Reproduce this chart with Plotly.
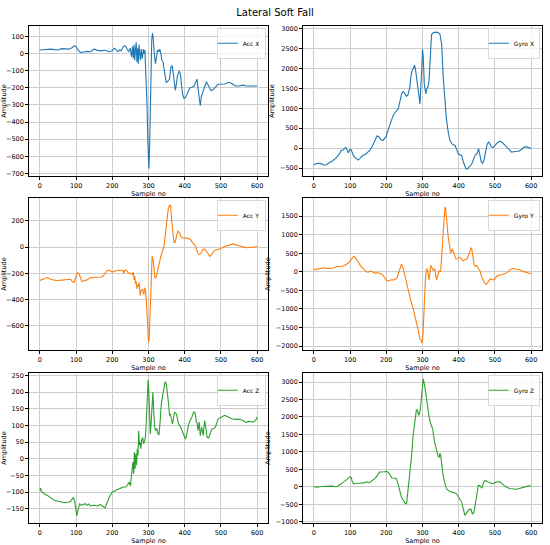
import plotly.graph_objects as go

TITLE = "Lateral Soft Fall"
X_TICKS = [0, 100, 200, 300, 400, 500, 600]

acc_x_s = [0,10,20,30,40,50,60,70,80,90,95,100,105,110,115,120,130,140,150,160,170,180,190,200,205,210,215,220,225,230,235,240,245,250,253,256,258,260,262,264,266,268,270,272,274,276,278,280,283,286,288,290,293,296,298,300,301,303,305,307,309,311,313,316,319,322,325,328,331,334,337,340,344,349,354,358,362,365,368,371,374,377,380,385,388,391,394,398,402,406,410,414,418,422,426,430,434,437,440,443,446,450,455,460,465,469,473,478,485,492,500,510,520,525,530,540,550,560,570,580,590,600]
acc_x_v = [20,22,20,25,22,20,28,25,25,35,45,40,20,10,5,8,12,10,25,18,15,20,10,15,30,25,10,20,15,40,45,30,10,30,-20,40,-30,50,-40,20,65,-50,30,-60,50,0,-40,25,-30,25,0,20,-100,-300,-500,-650,-672,-550,-300,-50,80,118,90,0,-60,-20,20,10,25,0,-40,-50,-100,-170,-160,-150,-80,-70,-110,-150,-215,-180,-130,-102,-120,-180,-235,-262,-257,-240,-215,-200,-200,-195,-190,-170,-150,-210,-270,-305,-250,-225,-190,-165,-185,-200,-218,-212,-195,-180,-180,-178,-170,-170,-175,-190,-190,-185,-190,-190,-190,-190]

gyro_x_s = [0,5,10,20,25,30,35,40,50,60,70,75,80,85,88,92,95,100,103,110,118,122,128,135,142,150,155,160,165,170,175,180,185,191,200,205,210,215,219,225,233,237,240,243,247,251,256,260,265,268,271,275,278,281,285,289,293,296,298,300,302,305,309,312,315,318,321,325,330,340,348,353,357,361,366,371,376,382,387,390,395,399,404,408,413,417,420,424,428,432,436,440,443,446,450,455,458,462,466,470,474,478,482,486,490,494,498,505,512,518,525,530,540,546,551,557,562,568,575,582,588,595,600]
gyro_x_v = [-420,-390,-380,-390,-420,-430,-420,-380,-330,-260,-150,-60,-50,0,20,-50,-120,-30,-40,-200,-280,-300,-250,-180,-160,-80,-50,30,120,200,310,280,210,190,300,450,570,700,820,900,985,1150,1320,1380,1420,1350,1300,1340,1525,1800,1940,2000,2085,1950,1730,1400,1110,1500,2000,2480,2300,1600,1360,1500,1530,1700,2300,2850,2900,2910,2870,2600,1820,1300,730,400,190,100,80,67,-50,-142,-170,-183,-350,-470,-520,-520,-470,-450,-400,-300,-220,-170,-150,-15,-150,-340,-380,-300,-100,80,150,120,30,10,40,120,170,160,100,50,-50,-100,-90,-90,-80,-70,-20,30,30,0,-10]

acc_y_s = [0,5,10,15,20,25,30,40,50,60,70,80,85,90,95,100,104,108,112,116,120,130,140,145,150,160,170,175,180,185,190,195,200,210,220,230,232,235,240,245,250,255,258,260,262,264,266,268,270,272,274,277,280,284,287,290,292,295,298,300,302,304,307,310,313,318,321,325,330,335,340,343,346,350,354,358,361,364,367,370,373,378,381,386,390,395,400,405,410,415,420,425,430,433,437,441,445,450,455,460,465,469,475,480,488,495,500,510,520,530,535,545,555,565,570,580,590,600]
acc_y_v = [-255,-250,-240,-235,-232,-238,-245,-252,-255,-252,-250,-248,-245,-265,-270,-220,-195,-200,-240,-262,-258,-250,-230,-235,-230,-230,-228,-220,-200,-180,-175,-185,-190,-180,-175,-180,-200,-175,-180,-200,-200,-210,-190,-250,-220,-280,-260,-320,-290,-300,-270,-370,-330,-320,-360,-310,-330,-456,-600,-725,-700,-500,-250,-70,-100,-237,-230,-180,-120,-60,-20,10,80,180,280,320,315,200,80,40,32,100,123,110,80,70,72,70,65,60,40,20,7,-20,-50,-57,-45,-20,-15,-30,-50,-70,-55,-30,-20,-15,-10,5,15,25,25,15,10,0,-5,-5,0,5]

gyro_y_s = [0,5,10,15,20,25,30,35,40,50,55,60,65,70,75,80,85,90,95,100,105,110,113,117,120,125,130,135,140,145,150,155,160,165,170,175,180,185,190,195,200,205,210,215,220,225,230,235,242,246,250,254,260,267,274,281,288,293,296,298,300,302,305,308,311,314,318,321,323,327,330,334,336,339,342,346,350,354,358,362,364,367,371,374,378,382,386,392,398,403,408,412,417,422,429,434,436,440,443,446,450,454,458,464,470,476,481,487,492,498,505,510,515,520,530,535,540,545,550,555,560,565,570,575,580,590,600]
gyro_y_v = [60,70,80,90,100,120,110,90,100,100,110,130,150,140,140,160,180,200,240,300,370,420,410,350,280,220,150,100,40,0,-10,20,10,-20,-40,-20,-30,-50,-80,-150,-220,-250,-230,-210,-220,-200,-150,20,215,120,-50,-226,-538,-750,-985,-1250,-1562,-1813,-1820,-1920,-1874,-1560,-700,-200,84,50,-226,50,175,100,30,84,-100,-226,-100,23,-5,500,1200,1750,1700,1300,931,750,503,620,500,351,360,396,350,300,325,340,486,640,620,300,175,150,170,84,40,-137,-280,-340,-260,-190,-205,-215,-120,-90,-80,-70,-40,0,50,80,90,80,70,70,50,20,10,-20,-50]

acc_z_s = [0,2,4,8,12,16,20,30,40,50,60,70,80,85,90,93,96,100,102,105,110,115,120,125,130,135,140,150,160,165,170,175,180,183,188,192,200,210,220,230,238,242,247,250,254,257,259,261,263,265,267,269,271,273,275,277,279,281,284,286,288,291,293,295,297,299,301,303,305,308,310,312,315,317,320,323,326,329,332,335,340,343,346,349,352,355,358,361,363,366,369,372,377,383,389,395,402,406,410,415,420,425,429,432,434,437,440,443,447,451,455,458,462,466,470,475,480,485,492,500,510,520,530,540,550,560,565,570,575,580,590,596,600]
acc_z_v = [-95,-88,-98,-102,-105,-108,-110,-118,-125,-128,-130,-132,-130,-128,-120,-117,-128,-160,-172,-155,-135,-140,-138,-135,-140,-136,-142,-140,-142,-138,-140,-145,-148,-140,-125,-115,-100,-95,-88,-85,-85,-78,-70,-82,-40,-10,-45,20,-30,15,-20,30,10,84,40,49,30,55,64,45,49,60,90,150,200,237,200,130,74,120,180,199,130,94,85,90,75,71,110,160,195,215,231,225,200,170,130,134,120,104,120,140,134,105,94,80,59,75,100,115,125,141,135,110,109,85,110,69,95,70,114,95,64,62,75,89,90,95,119,125,130,125,120,118,118,115,110,108,112,112,110,115,125]

gyro_z_s = [0,10,20,30,40,50,60,65,70,75,80,90,95,100,103,106,110,115,120,130,135,140,145,150,155,160,170,182,190,195,200,205,210,215,219,225,228,232,237,242,248,252,256,260,265,270,274,279,283,285,290,294,298,302,306,311,315,319,323,328,333,339,343,346,348,350,354,357,362,366,372,380,388,394,400,408,413,417,421,426,433,438,442,445,449,454,459,464,469,473,477,482,490,495,500,505,510,515,520,530,540,550,555,560,570,580,590,600]
gyro_z_v = [0,-10,10,20,30,20,0,10,50,80,120,200,250,290,270,150,80,100,100,100,100,120,150,120,130,180,250,422,420,430,440,420,350,260,250,240,230,100,-150,-300,-400,-470,-487,-100,420,900,1470,1950,2190,2215,2046,2215,2700,3094,2900,2522,2200,1948,1800,1660,1300,994,870,850,960,900,500,327,100,-57,-110,-153,-170,-201,-300,-438,-650,-820,-760,-677,-630,-773,-740,-582,-300,40,30,-36,130,183,150,135,100,90,120,140,150,130,80,0,-50,-70,-80,-70,-40,0,20,30]

BLUE = "#1f77b4"
ORANGE = "#ff7f0e"
GREEN = "#2ca02c"

panels = [
    ("Acc X", acc_x_s, acc_x_v, BLUE, [-715, 160], 100, 0, 0),
    ("Gyro X", gyro_x_s, gyro_x_v, BLUE, [-700, 3065], 500, 0, 1),
    ("Acc Y", acc_y_s, acc_y_v, ORANGE, [-785, 375], 200, 1, 0),
    ("Gyro Y", gyro_y_s, gyro_y_v, ORANGE, [-2105, 1990], 500, 1, 1),
    ("Acc Z", acc_z_s, acc_z_v, GREEN, [-193, 257], 50, 2, 0),
    ("Gyro Z", gyro_z_s, gyro_z_v, GREEN, [-1037, 3260], 500, 2, 1),
]

W, H = 550, 545
col_px = [(29, 268), (303, 542)]
row_px = [(26, 176), (198, 350), (373, 523)]

FONT = "DejaVu Sans"
TXT = dict(family=FONT, size=6.5, color="black")
fig = go.Figure()
layout = dict(
    template="none",
    width=W, height=H,
    margin=dict(l=0, r=0, t=0, b=0, autoexpand=False),
    paper_bgcolor="white", plot_bgcolor="white",
    showlegend=True,
    font=TXT,
    title=dict(text=TITLE, x=0.5, xanchor="center", y=1 - 12 / H, yanchor="middle",
               font=dict(family=FONT, size=10, color="black")),
)

for i, (name, xs, ys, color, yr, dtick, r, c) in enumerate(panels):
    k = i + 1
    xa = "x" if k == 1 else f"x{k}"
    ya = "y" if k == 1 else f"y{k}"
    lg = "legend" if k == 1 else f"legend{k}"
    fig.add_trace(go.Scatter(x=xs, y=ys, mode="lines", name=name,
                             line=dict(color=color, width=1.1),
                             xaxis=xa, yaxis=ya, legend=lg))
    x0, x1 = col_px[c]
    y0, y1 = row_px[r]
    dom_x = [x0 / W, x1 / W]
    dom_y = [1 - y1 / H, 1 - y0 / H]
    axcommon = dict(showline=True, linecolor="black", linewidth=0.8, mirror=True,
                    ticks="outside", ticklen=3, tickwidth=0.8, tickcolor="black",
                    showgrid=True, gridcolor="#cdcdcd", gridwidth=0.9,
                    zeroline=False, automargin=False, tickfont=TXT)
    layout["xaxis" if k == 1 else f"xaxis{k}"] = dict(
        domain=dom_x, anchor=ya, range=[-30, 630], tickmode="array",
        tickvals=X_TICKS, title=dict(text="Sample no", standoff=0, font=TXT), **axcommon)
    layout["yaxis" if k == 1 else f"yaxis{k}"] = dict(
        domain=dom_y, anchor=xa, range=yr, dtick=dtick, tick0=0,
        title=dict(text="Amplitude", standoff=4, font=TXT), **axcommon)
    layout[lg] = dict(x=dom_x[1] - 2 / W, y=dom_y[1] - 2 / H, xanchor="right", yanchor="top",
                      bgcolor="rgba(255,255,255,0.8)", bordercolor="#d0d0d0", borderwidth=0.8,
                      font=dict(family=FONT, size=6, color="black"), itemwidth=30,
                      indentation=-15, tracegroupgap=0)

fig.update_layout(**layout)
fig.write_html("out.html", config={"displayModeBar": False},
               post_script="document.body.style.margin='0';document.body.style.overflow='hidden';")
